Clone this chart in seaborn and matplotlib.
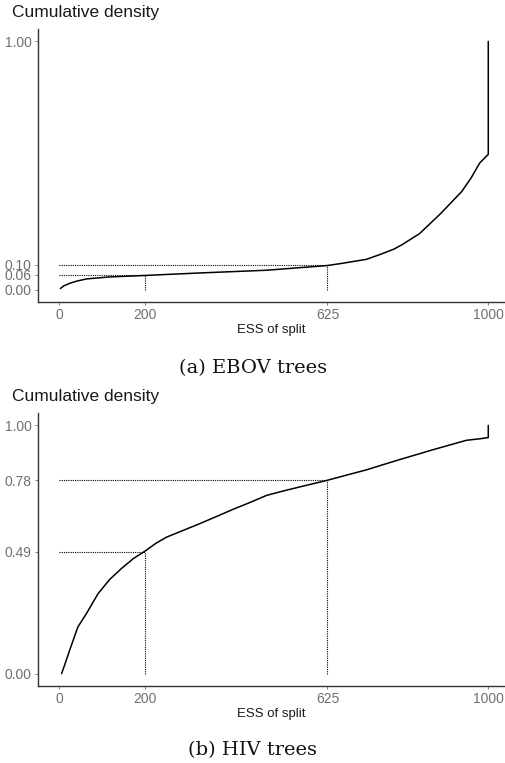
import numpy as np
import matplotlib
matplotlib.use("Agg")
import matplotlib.pyplot as plt
import pandas as pd
import seaborn as sns

# ESS of split (x) vs cumulative density (y)
ebov_ess = [2, 10, 25, 40, 63, 117, 200, 327, 483, 625, 660, 716, 747, 780, 801,
            840, 862, 887, 912, 938, 960, 980, 1000, 1000]
ebov_cdf = [0.004, 0.015, 0.026, 0.034, 0.043, 0.051, 0.057, 0.067, 0.078, 0.097,
            0.106, 0.122, 0.141, 0.163, 0.183, 0.226, 0.262, 0.303, 0.348, 0.395,
            0.45, 0.51, 0.545, 1.00]

hiv_ess = [5, 12, 25, 43, 63, 90, 117, 145, 172, 200, 225, 250, 290, 327, 365,
           405, 445, 483, 520, 560, 625, 670, 716, 755, 793, 830, 871, 910, 949,
           980, 1000, 1000]
hiv_cdf = [0.0, 0.034, 0.10, 0.188, 0.242, 0.322, 0.379, 0.424, 0.463, 0.494,
           0.525, 0.55, 0.578, 0.604, 0.632, 0.662, 0.69, 0.718, 0.735, 0.752,
           0.779, 0.80, 0.821, 0.842, 0.862, 0.881, 0.902, 0.921, 0.94, 0.946,
           0.951, 1.00]

x_ticks = [0, 200, 625, 1000]
ref_ess = [200, 625]
ebov_ref = [0.06, 0.10]
hiv_ref = [0.49, 0.78]
ebov_yticks = [0.00, 0.06, 0.10, 1.00]
hiv_yticks = [0.00, 0.49, 0.78, 1.00]

captions = ["(a) EBOV trees", "(b) HIV trees"]

sns.set_theme(style="ticks")
plt.rcParams["font.family"] = ["Liberation Sans", "DejaVu Sans"]

W, H = 506, 763
fig = plt.figure(figsize=(W / 100, H / 100), dpi=100)


def draw_panel(rect, xs, ys, ref_y, yticks, caption, cap_y):
    ax = fig.add_axes(rect)
    df = pd.DataFrame({"ess": xs, "cdf": ys})
    sns.lineplot(data=df, x="ess", y="cdf", ax=ax, color="black", lw=1.1,
                 sort=False, estimator=None)
    # dotted guide lines
    for rx, ry in zip(ref_ess, ref_y):
        ax.hlines(ry, 0, rx, colors="black", linestyles=(0, (1, 1)), lw=0.8)
        ax.vlines(rx, 0, ry, colors="black", linestyles=(0, (1, 1)), lw=0.8)
    ax.set_xlim(-50, 1039)
    ax.set_ylim(-0.05, 1.05)
    ax.set_xticks(x_ticks)
    ax.set_yticks(yticks)
    ax.set_yticklabels([f"{t:.2f}" for t in yticks])
    ax.set_xlabel("ESS of split", fontsize=9.5, color="#1a1a1a", labelpad=1)
    ax.set_ylabel("")
    ax.tick_params(axis="both", labelsize=10, labelcolor="#707070",
                   color="#707070", length=2.5, width=0.6, pad=2)
    for s in ["top", "right"]:
        ax.spines[s].set_visible(False)
    for s in ["left", "bottom"]:
        ax.spines[s].set_color("#333333")
        ax.spines[s].set_linewidth(1.0)
    # y-axis title placed on top as in ggplot
    top = rect[1] + rect[3]
    fig.text(12 / W, top + 0.012, "Cumulative density", fontsize=12.5,
             color="#1a1a1a", ha="left", va="bottom")
    fig.text(0.5, cap_y, caption, fontsize=14, family="DejaVu Serif",
             ha="center", va="center", color="#111111")
    return ax


# axes rects in figure fractions (pixels measured from reference)
rect_a = [38 / W, 1 - 302 / H, (505 - 38) / W, (302 - 29) / H]
rect_b = [38 / W, 1 - 686 / H, (505 - 38) / W, (686 - 413) / H]

draw_panel(rect_a, ebov_ess, ebov_cdf, ebov_ref, ebov_yticks, captions[0], 1 - 368 / H)
draw_panel(rect_b, hiv_ess, hiv_cdf, hiv_ref, hiv_yticks, captions[1], 1 - 750 / H)

fig.savefig("out.png", dpi=100)
